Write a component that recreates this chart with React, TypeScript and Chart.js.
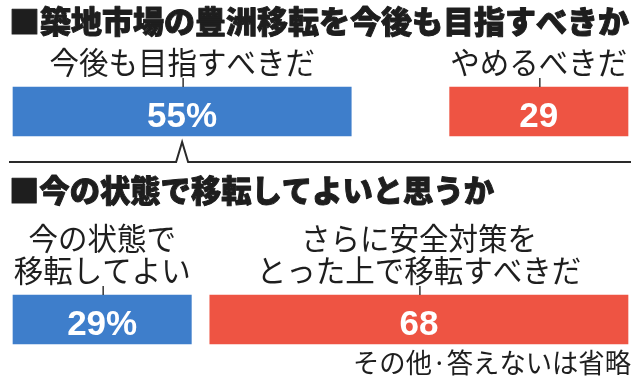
import React, { useEffect, useRef } from 'react';
import { Chart, registerables } from 'chart.js';

Chart.register(...registerables);

// ---- data ----
const questions = ['築地市場の豊洲移転を今後も目指すべきか', '今の状態で移転してよいと思うか'];
const yesLabels = [['今後も目指すべきだ'], ['今の状態で', '移転してよい']];
const noLabels = [['やめるべきだ'], ['さらに安全対策を', 'とった上で移転すべきだ']];
const yesValues = [55, 29];
const otherValues = [16, 3]; // その他・答えない (not drawn)
const noValues = [29, 68];
const footnote = 'その他·答えないは省略';

// ---- style ----
const BLUE = '#3e7ecb';
const RED = '#ee5443';
const INK = '#1e1e1e';
const JP = '"Noto Sans CJK JP", "Noto Sans", sans-serif';
const NUM = '"Liberation Sans", Arial, sans-serif';
const TITLE_Y = [21, 190];
const TITLE_W = [620, 485];
const RULE_Y = 162;

// draw text scaled horizontally to an exact width
function fitText(
  ctx: CanvasRenderingContext2D,
  text: string,
  x: number,
  y: number,
  width: number,
  align: 'left' | 'center' | 'right',
  stroke = 0
) {
  const w = ctx.measureText(text).width;
  const s = width / w;
  ctx.save();
  ctx.textAlign = align;
  ctx.translate(x, y);
  ctx.scale(s, 1);
  ctx.fillText(text, 0, 0);
  if (stroke > 0) {
    ctx.strokeStyle = ctx.fillStyle as string;
    ctx.lineWidth = stroke;
    ctx.lineJoin = 'round';
    ctx.strokeText(text, 0, 0);
  }
  ctx.restore();
}

const annotate = {
  id: 'annotate',
  afterDatasetsDraw(chart: any) {
    const ctx: CanvasRenderingContext2D = chart.ctx;
    const yesMeta = chart.getDatasetMeta(0);
    const noMeta = chart.getDatasetMeta(2);
    ctx.save();

    // section titles
    ctx.fillStyle = INK;
    ctx.font = `900 31px ${JP}`;
    ctx.textBaseline = 'middle';
    questions.forEach((q, i) => {
      fitText(ctx, '■' + q, 9, TITLE_Y[i], TITLE_W[i], 'left', 1);
    });

    const groups = [
      { meta: yesMeta, labels: yesLabels, values: yesValues, pct: true },
      { meta: noMeta, labels: noLabels, values: noValues, pct: false },
    ];

    questions.forEach((_, i) => {
      groups.forEach((g) => {
        const el = g.meta.data[i];
        const p = el.getProps(['x', 'y', 'base', 'height'], true);
        const cx = (p.x + p.base) / 2;
        const top = p.y - p.height / 2;
        // labels above bar
        ctx.fillStyle = INK;
        ctx.font = `31px ${JP}`;
        ctx.textBaseline = 'middle';
        const lines = g.labels[i];
        lines.forEach((ln, j) => {
          const ly = top - 25 - (lines.length - 1 - j) * 32;
          fitText(ctx, ln, cx, ly, ln.length * 29.5, 'center');
        });
        // tick
        ctx.strokeStyle = '#333';
        ctx.lineWidth = 1.5;
        ctx.beginPath();
        ctx.moveTo(cx + 1, top - 9);
        ctx.lineTo(cx + 1, top);
        ctx.stroke();
        // value
        ctx.fillStyle = '#ffffff';
        ctx.font = `bold 35px ${NUM}`;
        ctx.textAlign = 'center';
        ctx.textBaseline = 'alphabetic';
        ctx.fillText(g.values[i] + (g.pct ? '%' : ''), cx, p.y + 15.5);
      });
    });

    // separator rule with caret under first bar
    const first = yesMeta.data[0].getProps(['x', 'base'], true);
    const caretX = (first.x + first.base) / 2;
    ctx.strokeStyle = '#2a2a2a';
    ctx.lineWidth = 2;
    ctx.lineJoin = 'miter';
    ctx.beginPath();
    ctx.moveTo(9, RULE_Y);
    ctx.lineTo(caretX - 6, RULE_Y);
    ctx.lineTo(caretX, RULE_Y - 20);
    ctx.lineTo(caretX + 6, RULE_Y);
    ctx.lineTo(631, RULE_Y);
    ctx.stroke();

    // footnote
    const last = noMeta.data[1].getProps(['y', 'height'], true);
    ctx.fillStyle = INK;
    ctx.font = `27px ${JP}`;
    ctx.textBaseline = 'middle';
    fitText(ctx, footnote, 631, last.y + last.height / 2 + 19, 278, 'right');

    ctx.restore();
  },
};

export default function App() {
  const ref = useRef<HTMLCanvasElement | null>(null);
  useEffect(() => {
    if (!ref.current) return;
    const chart = new Chart(ref.current, {
      type: 'bar',
      data: {
        labels: questions,
        datasets: [
          { label: 'yes', data: yesValues, backgroundColor: BLUE, clip: false as any, borderWidth: 0 },
          { label: 'other', data: otherValues, backgroundColor: 'rgba(0,0,0,0)', clip: false as any, borderWidth: 0 },
          { label: 'no', data: noValues, backgroundColor: RED, clip: false as any, borderWidth: 0 },
        ],
      },
      options: {
        indexAxis: 'y',
        animation: false,
        responsive: false,
        events: [],
        layout: { padding: { left: 13, right: 12, top: 111.5, bottom: 60.5 } },
        datasets: { bar: { barThickness: 49 } },
        scales: {
          x: { stacked: true, min: 0, max: 100, display: false },
          y: { stacked: true, display: false, offset: false },
        },
        plugins: {
          legend: { display: false },
          tooltip: { enabled: false },
          title: { display: false },
        },
      } as any,
      plugins: [annotate],
    });
    return () => chart.destroy();
  }, []);

  return (
    <div style={{ position: 'absolute', left: 0, top: 0, width: 640, height: 380, background: '#fff' }}>
      <canvas ref={ref} width={640} height={380} style={{ display: 'block' }} />
    </div>
  );
}
